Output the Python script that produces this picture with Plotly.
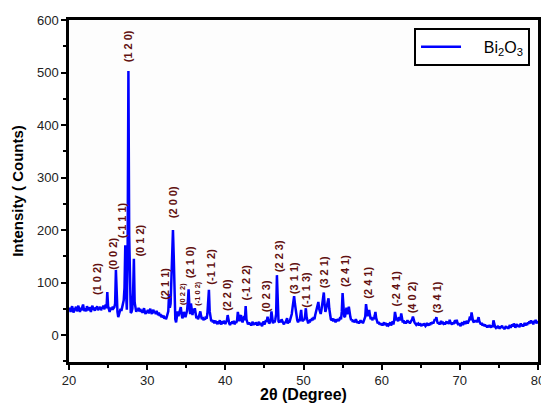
import numpy as np
import plotly.graph_objects as go

# 2-theta grid: 20.0 .. 80.0 step 0.1
two_theta = np.round(np.arange(200, 801) / 10.0, 1)

# Intensity (counts), one row per degree (10 samples each)
intensity = [
    46, 52, 44, 50, 55, 47, 43, 51, 49, 54,   # 20
    45, 50, 56, 48, 44, 52, 47, 53, 58, 49,   # 21
    46, 51, 45, 55, 50, 47, 53, 49, 44, 52,   # 22
    56, 48, 51, 46, 53, 50, 55, 47, 52, 49,   # 23
    54, 47, 52, 50, 56, 49, 53, 58, 51, 82,   # 24
    55, 46, 44, 52, 50, 48, 54, 51, 53, 60,   # 25
    124, 70, 44, 34, 40, 48, 50, 46, 54, 58,  # 26
    66, 90, 171, 80, 48, 160, 503, 190, 60, 42,  # 27
    44, 50, 80, 145, 62, 48, 44, 50, 46, 52,  # 28
    45, 50, 44, 48, 42, 47, 51, 44, 40, 46,   # 29
    43, 48, 41, 46, 50, 44, 40, 45, 48, 42,   # 30
    44, 40, 46, 42, 38, 43, 36, 40, 34, 38,   # 31
    33, 37, 31, 35, 30, 34, 38, 45, 78, 52,   # 32
    60, 110, 195, 200, 150, 70, 30, 24, 34, 45,  # 33
    36, 42, 48, 53, 40, 32, 36, 44, 38, 34,   # 34
    40, 46, 62, 87, 55, 40, 60, 45, 38, 50,   # 35
    42, 51, 40, 32, 36, 30, 34, 38, 45, 36,   # 36
    30, 34, 28, 32, 29, 35, 31, 40, 60, 86,   # 37
    45, 30, 26, 29, 24, 28, 22, 27, 25, 23,   # 38
    26, 21, 25, 28, 23, 20, 26, 22, 27, 24,   # 39
    21, 25, 28, 38, 26, 22, 19, 24, 21, 26,   # 40
    22, 27, 20, 25, 23, 28, 44, 30, 26, 35,   # 41
    38, 28, 24, 30, 36, 28, 55, 30, 22, 20,   # 42
    24, 20, 23, 18, 22, 25, 19, 23, 20, 24,   # 43
    21, 18, 22, 25, 19, 23, 20, 17, 22, 26,   # 44
    20, 24, 28, 25, 35, 27, 22, 24, 30, 45,   # 45
    26, 22, 28, 24, 30, 40, 114, 45, 26, 24,  # 46
    28, 24, 30, 26, 22, 20, 25, 23, 28, 32,   # 47
    22, 26, 24, 28, 32, 40, 52, 62, 74, 60,   # 48
    45, 34, 28, 24, 30, 26, 38, 48, 30, 26,   # 49
    30, 28, 36, 51, 34, 26, 22, 28, 24, 30,   # 50
    27, 32, 28, 34, 30, 38, 45, 50, 58, 63,   # 51
    50, 42, 40, 48, 60, 70, 81, 58, 44, 50,   # 52
    58, 62, 70, 50, 36, 30, 28, 32, 26, 30,   # 53
    28, 24, 30, 26, 31, 27, 29, 34, 30, 45,   # 54
    80, 52, 36, 34, 42, 52, 40, 44, 54, 38,   # 55
    34, 28, 30, 25, 28, 24, 27, 30, 26, 23,   # 56
    26, 22, 25, 28, 24, 27, 22, 26, 30, 35,   # 57
    59, 44, 36, 40, 48, 38, 30, 34, 28, 32,   # 58
    30, 36, 44, 32, 26, 22, 25, 20, 23, 19,   # 59
    22, 18, 21, 24, 19, 23, 20, 17, 22, 19,   # 60
    21, 24, 18, 22, 26, 20, 28, 44, 35, 28,   # 61
    30, 26, 34, 32, 28, 41, 30, 24, 28, 22,   # 62
    26, 22, 25, 28, 24, 26, 22, 24, 28, 30,   # 63
    35, 28, 24, 22, 20, 23, 19, 21, 18, 22,   # 64
    19, 17, 21, 18, 22, 20, 17, 19, 23, 20,   # 65
    18, 22, 19, 24, 21, 25, 22, 26, 30, 28,   # 66
    34, 26, 22, 24, 20, 23, 27, 21, 25, 22,   # 67
    24, 20, 23, 26, 22, 25, 21, 29, 24, 22,   # 68
    20, 24, 21, 25, 28, 22, 29, 23, 19, 22,   # 69
    20, 17, 21, 24, 19, 22, 26, 21, 24, 27,   # 70
    22, 25, 29, 35, 28, 43, 32, 26, 24, 28,   # 71
    25, 28, 24, 30, 34, 26, 22, 20, 23, 18,   # 72
    21, 17, 20, 16, 19, 14, 18, 15, 19, 16,   # 73
    14, 18, 15, 28, 19, 16, 14, 17, 13, 16,   # 74
    15, 12, 16, 14, 18, 13, 15, 11, 14, 17,   # 75
    13, 16, 12, 15, 19, 14, 17, 20, 16, 22,   # 76
    18, 14, 17, 21, 16, 19, 15, 18, 22, 17,   # 77
    20, 16, 19, 23, 18, 22, 19, 24, 21, 26,   # 78
    22, 28, 23, 26, 20, 27, 24, 29, 22, 26,   # 79
    24,                                       # 80
]

# Miller-index labels: text, x (2theta), y (counts, label centre), small font?
hkl_labels = ["(1 0 2)", "(0 0 2)", "(-1 1 1)", "(1 2 0)", "(0 1 2)", "(2 1 1)",
              "(2 0 0)", "(0 2 2)", "(2 1 0)", "(-1 0 2)", "(-1 1 2)", "(2 2 0)",
              "(-1 2 2)", "(0 2 3)", "(2 2 3)", "(3 1 1)", "(-1 1 3)", "(3 2 1)",
              "(2 4 1)", "(2 4 1)", "(-2 4 1)", "(4 0 2)", "(3 4 1)"]
hkl_x = [23.6, 25.7, 26.8, 27.55, 29.15, 32.25, 33.3, 34.45, 35.5, 36.35, 38.15, 40.2,
         42.7, 45.2, 46.85, 48.7, 50.3, 52.65, 55.3, 58.2, 61.8, 63.9, 67.1]
hkl_y = [107, 154, 219, 550, 179, 97, 253, 78, 139, 80, 130, 76,
         101, 74, 150, 109, 86, 120, 122, 99, 88, 72, 72]
hkl_small = [False, False, False, False, False, False, False, True, False, True, False, False,
             False, False, False, False, False, False, False, False, False, False, False]

fig = go.Figure()
fig.add_trace(go.Scatter(
    x=two_theta, y=intensity, mode="lines",
    line=dict(color="#0000ff", width=2.5),
    name="&nbsp;&nbsp;&nbsp;&nbsp;Bi<sub>2</sub>O<sub>3</sub>",
))

for t, x, y, s in zip(hkl_labels, hkl_x, hkl_y, hkl_small):
    fig.add_annotation(
        x=x, y=y, text="<b>%s</b>" % t, showarrow=False, textangle=-90,
        font=dict(family="Arial, Liberation Sans", size=7.5 if s else 11, color="#621010"),
        xanchor="center", yanchor="middle",
    )

axis_common = dict(
    showline=True, linecolor="black", linewidth=2.5, mirror=True,
    ticks="outside", ticklen=5, tickwidth=1.5, tickcolor="black",
    showgrid=False, zeroline=False, automargin=False,
    tickfont=dict(family="Arial, Liberation Sans", size=13, color="#222"),
)

fig.update_xaxes(
    range=[20, 80], tick0=20, dtick=10,
    minor=dict(ticks="outside", ticklen=3, tickwidth=1.5, tickcolor="black", dtick=5),
    title=dict(text="<b>2θ (Degree)</b>", standoff=1,
               font=dict(family="Arial, Liberation Sans", size=16, color="black")),
    **axis_common,
)
fig.update_yaxes(
    range=[-51.4, 600], tick0=0, dtick=100,
    minor=dict(ticks="outside", ticklen=3, tickwidth=1.5, tickcolor="black", dtick=50, tick0=0),
    title=dict(text="<b>Intensity ( Counts)</b>", standoff=10,
               font=dict(family="Arial, Liberation Sans", size=15, color="black")),
    **axis_common,
)

# the page body adds an 8px offset; size/margins compensate so the plot lands in place
fig.update_layout(
    width=541, height=395,
    margin=dict(l=61, r=11, t=12, b=41),
    plot_bgcolor="#fdfdfd", paper_bgcolor="white",
    showlegend=True,
    legend=dict(x=0.983, y=0.977, xanchor="right", yanchor="top",
                bordercolor="black", borderwidth=2, bgcolor="white",
                font=dict(family="Arial, Liberation Sans", size=16, color="black"),
                itemwidth=40),
)

fig.write_html("out.html")
